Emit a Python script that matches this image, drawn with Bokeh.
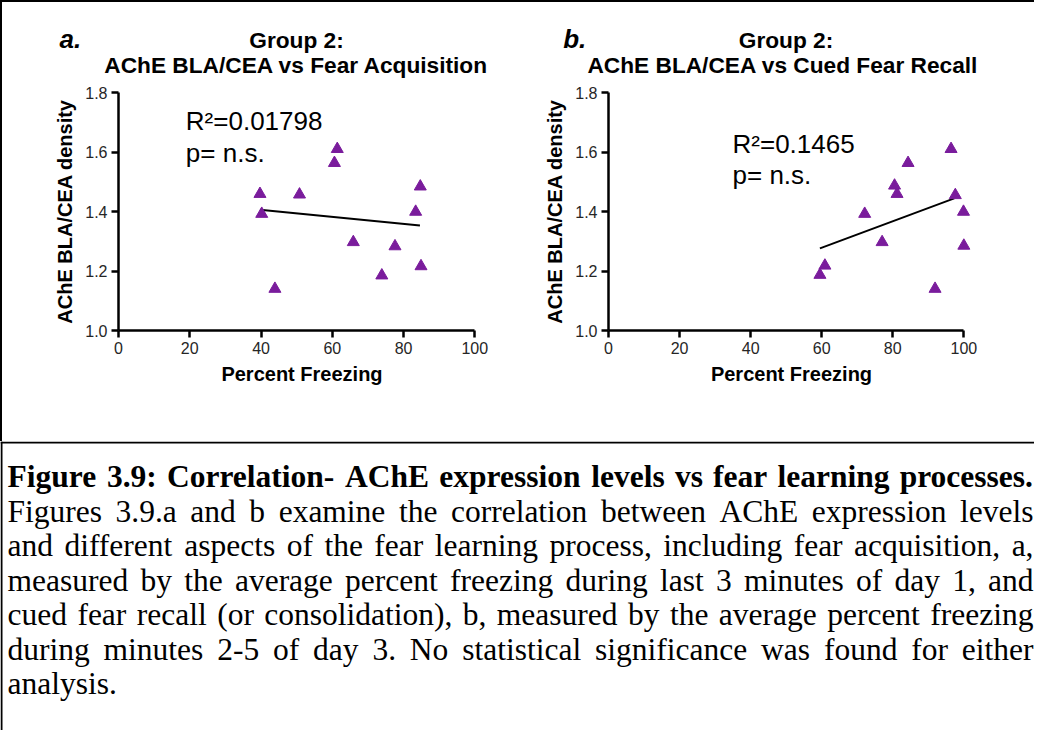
from bokeh.plotting import figure
from bokeh.models import Range1d, FixedTicker, PrintfTickFormatter, Label, ColumnDataSource, Spacer, Span
from bokeh.layouts import column, row
from bokeh.embed import file_html
from bokeh.resources import INLINE
from bokeh.core.properties import value

# ---------------- data ----------------
x_ticks = [0, 20, 40, 60, 80, 100]
y_ticks = [1.0, 1.2, 1.4, 1.6, 1.8]

acq_freezing = [39.7, 40.2, 43.9, 50.8, 60.6, 61.4, 65.9, 73.9, 77.6, 83.4, 84.7, 84.9]
acq_density = [1.459, 1.392, 1.140, 1.457, 1.563, 1.610, 1.297, 1.185, 1.283, 1.399, 1.484, 1.216]
acq_fit_x = [39.7, 84.6]
acq_fit_y = [1.406, 1.353]

recall_freezing = [59.5, 60.9, 72.1, 77.0, 80.5, 81.2, 84.3, 91.9, 96.4, 97.6, 99.9, 100.0]
recall_density = [1.187, 1.218, 1.392, 1.297, 1.487, 1.459, 1.563, 1.140, 1.610, 1.455, 1.399, 1.285]
recall_fit_x = [59.5, 97.3]
recall_fit_y = [1.276, 1.444]

panel_letters = ["a.", "b."]
titles_top = ["Group 2:", "Group 2:"]
titles_bottom = ["AChE BLA/CEA vs Fear Acquisition", "AChE BLA/CEA vs Cued Fear  Recall"]
r2_texts = ["R\u00b2=0.01798", "R\u00b2=0.1465"]
p_texts = ["p= n.s.", "p= n.s."]
x_label = "Percent Freezing"
y_label = "AChE BLA/CEA density"

caption_bold = "Figure 3.9: Correlation- AChE expression levels vs fear learning processes."
caption_lines = [
    "Figures 3.9.a and b examine the correlation between AChE expression levels",
    "and different aspects of the fear learning process, including fear acquisition, a,",
    "measured by the average percent freezing during last 3 minutes of day 1, and",
    "cued fear recall (or consolidation), b, measured by the average percent freezing",
    "during minutes 2-5 of day 3. No statistical significance was found for either",
    "analysis.",
]

# ---------------- styles ----------------
PURPLE = "#7a1c9c"
SANS = "Liberation Sans"
SERIF = "Liberation Serif"
H_TITLE = 80
H_PANEL = 359
H_TOP = H_TITLE + H_PANEL
TITLE_SIZE = "22.7px"
X_END = 103
WA, WB = 510, 522
BL_A, BL_B = 116, 96


def make_panel(xs, ys, fx, fy, idx, width, bl, br, stat_x, r2_y, p_y):
    p = figure(width=width, height=H_PANEL, x_range=Range1d(0, X_END), y_range=Range1d(1.0, 1.8),
               output_backend="svg", toolbar_location=None,
               min_border_left=bl, min_border_right=br, min_border_top=10, min_border_bottom=111)
    p.xgrid.visible = False
    p.ygrid.visible = False
    p.outline_line_color = None
    p.background_fill_color = "white"
    p.border_fill_color = "white"
    p.xaxis.ticker = FixedTicker(ticks=x_ticks)
    p.xaxis.bounds = (0, 100)
    p.yaxis.ticker = FixedTicker(ticks=y_ticks)
    p.yaxis.formatter = PrintfTickFormatter(format="%.1f")
    for ax in (p.xaxis[0], p.yaxis[0]):
        ax.axis_line_width = 2.5
        ax.axis_line_color = "black"
        ax.major_tick_line_width = 2.5
        ax.major_tick_line_color = "black"
        ax.major_tick_out = 7
        ax.major_tick_in = 0
        ax.minor_tick_out = 0
        ax.minor_tick_in = 0
        ax.major_label_text_font = SANS
        ax.major_label_text_font_size = "16px"
        ax.major_label_text_color = "#262626"
        ax.major_label_standoff = 4
        ax.axis_label_text_font = SANS
        ax.axis_label_text_font_size = "20px"
        ax.axis_label_text_font_style = "bold"
        ax.axis_label_text_color = "black"
        ax.axis_label_standoff = 6
    p.xaxis.axis_label = x_label
    p.yaxis.axis_label = y_label

    p.line(fx, fy, line_color="black", line_width=2)
    p.scatter(xs, ys, marker="triangle", size=12, fill_color=PURPLE, line_color=PURPLE, line_width=1)

    p.add_layout(Label(x=stat_x, y=r2_y, text=r2_texts[idx], text_font=SANS,
                       text_font_size="26px", text_color="black",
                       text_align="left", text_baseline="alphabetic"))
    p.add_layout(Label(x=stat_x, y=p_y, text=p_texts[idx], text_font=SANS,
                       text_font_size="26px", text_color="black",
                       text_align="left", text_baseline="alphabetic"))
    return p


# panel a: frame 356 px per 100 units; panel b: 355 px per 100 units
wa_frame = round(356 * X_END / 100)
wb_frame = round(355 * X_END / 100)
pa = make_panel(acq_freezing, acq_density, acq_fit_x, acq_fit_y, 0, WA, BL_A, WA - BL_A - wa_frame,
                18.9, 1.7035, 1.596)
pb = make_panel(recall_freezing, recall_density, recall_fit_x, recall_fit_y, 1, WB, BL_B, WB - BL_B - wb_frame,
                34.9, 1.626, 1.522)

# ---------------- title strip (pixel coordinates) ----------------
W_TITLE = WA + WB
centers = [BL_A + 178, WA + BL_B + 177.5]
letter_xs = [57, 560.7]
tfig = figure(width=W_TITLE, height=H_TITLE, x_range=Range1d(0, W_TITLE), y_range=Range1d(H_TITLE, 0),
              x_axis_type=None, y_axis_type=None, output_backend="svg", toolbar_location=None,
              min_border=0)
tfig.grid.visible = False
tfig.outline_line_color = None
tfig.text(x=letter_xs, y=[36, 36], text=panel_letters, text_font=value(SANS),
          text_font_size="26px", text_font_style="bold italic", text_color="black",
          text_align="left", text_baseline="alphabetic")
tfig.text(x=centers, y=[37, 37], text=titles_top, text_font=value(SANS),
          text_font_size=TITLE_SIZE, text_font_style="bold", text_color="black",
          text_align="center", text_baseline="alphabetic")
tfig.text(x=centers, y=[62.7, 62.7], text=titles_bottom, text_font=value(SANS),
          text_font_size=TITLE_SIZE, text_font_style="bold", text_color="black",
          text_align="center", text_baseline="alphabetic")

# ---------------- caption (justified, Times metrics) ----------------
_low = "abcdefghijklmnopqrstuvwxyz"
_up = "ABCDEFGHIJKLMNOPQRSTUVWXYZ"
REG = dict(zip(_low, [444, 500, 444, 500, 444, 333, 500, 500, 278, 278, 500, 278, 778, 500, 500, 500, 500,
                      333, 389, 278, 500, 500, 722, 500, 500, 444]))
REG.update(dict(zip(_up, [722, 667, 667, 722, 611, 556, 722, 722, 333, 389, 722, 611, 889, 722, 722, 556,
                          722, 667, 556, 611, 722, 722, 944, 722, 722, 611])))
REG.update({".": 250, ",": 250, "-": 333, "(": 333, ")": 333, ":": 278, " ": 250})
REG.update({d: 500 for d in "0123456789"})
BOLD = dict(zip(_low, [500, 556, 444, 556, 444, 333, 500, 556, 278, 333, 556, 278, 833, 556, 500, 556, 556,
                       444, 389, 333, 556, 500, 722, 500, 500, 444]))
BOLD.update(dict(zip(_up, [722, 667, 722, 722, 667, 611, 778, 778, 389, 500, 778, 667, 944, 722, 778, 611,
                           778, 722, 556, 667, 722, 722, 1000, 722, 722, 667])))
BOLD.update({".": 250, ",": 250, "-": 333, "(": 333, ")": 333, ":": 333, " ": 250})
BOLD.update({d: 500 for d in "0123456789"})

CAP_SIZE = 31.5
CAP_LEFT = 7
CAP_RIGHT = 1033
CAP_TOP_BASE = 35
CAP_STEP = 34.5


def layout_line(line, table, base_y, justify):
    words = line.split(" ")
    widths = [sum(table.get(c, 500) for c in w) * CAP_SIZE / 1000.0 for w in words]
    if justify and len(words) > 1:
        gap = (CAP_RIGHT - CAP_LEFT - sum(widths)) / (len(words) - 1)
    else:
        gap = table[" "] * CAP_SIZE / 1000.0
    xs, x = [], CAP_LEFT
    for w in widths:
        xs.append(x)
        x += w + gap
    return xs, [base_y] * len(words), words


bx, by, bt = layout_line(caption_bold, BOLD, CAP_TOP_BASE, True)
rx, ry, rt = [], [], []
for i, ln in enumerate(caption_lines):
    xs_, ys_, ts_ = layout_line(ln, REG, CAP_TOP_BASE + CAP_STEP * (i + 1), i < len(caption_lines) - 1)
    rx += xs_
    ry += ys_
    rt += ts_

H_CAP = 730 - 2 - H_TOP
cap = figure(width=1034, height=H_CAP, x_range=Range1d(0, 1034), y_range=Range1d(H_CAP, 0),
             x_axis_type=None, y_axis_type=None, output_backend="svg", toolbar_location=None,
             min_border=0)
cap.grid.visible = False
cap.outline_line_color = None
cap.add_layout(Span(location=1, dimension="width", line_color="black", line_width=2))
cap.add_layout(Span(location=1, dimension="height", line_color="black", line_width=2))
cap.text(x="x", y="y", text="t", source=ColumnDataSource(dict(x=bx, y=by, t=bt)),
         text_font=value(SERIF), text_font_size=f"{CAP_SIZE}px", text_font_style="bold",
         text_color="black", text_align="left", text_baseline="alphabetic")
cap.text(x="x", y="y", text="t", source=ColumnDataSource(dict(x=rx, y=ry, t=rt)),
         text_font=value(SERIF), text_font_size=f"{CAP_SIZE}px",
         text_color="black", text_align="left", text_baseline="alphabetic")

top_line = Spacer(width=1034, height=2, styles={"background-color": "black"})
left_line1 = Spacer(width=2, height=H_TITLE, styles={"background-color": "black"})
left_line2 = Spacer(width=2, height=H_PANEL, styles={"background-color": "black"})

layout = column(top_line, row(left_line1, tfig), row(left_line2, pa, pb), cap)
open("out.html", "w").write(file_html(layout, INLINE))
